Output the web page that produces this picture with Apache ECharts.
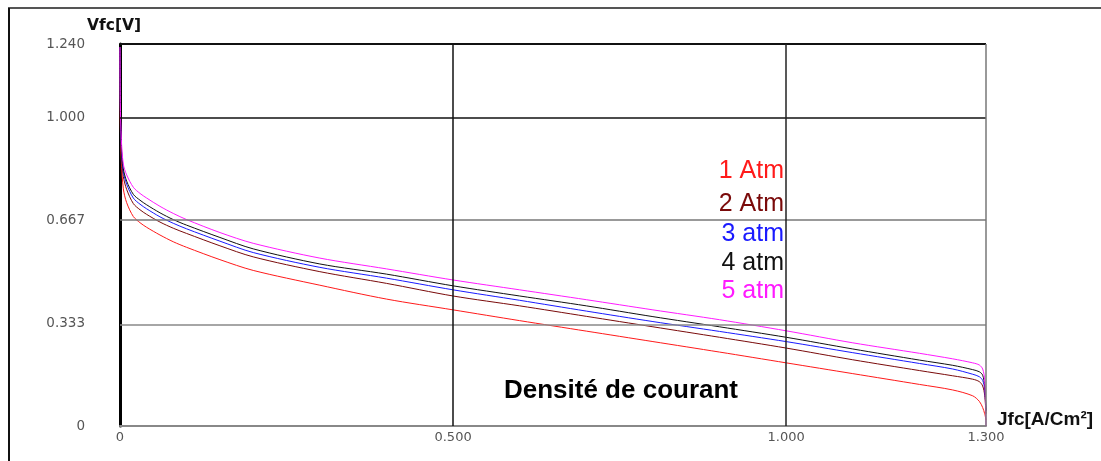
<!DOCTYPE html>
<html>
<head>
<meta charset="utf-8">
<style>
  html, body { margin: 0; padding: 0; background: #fff; }
  #chart { width: 1101px; height: 461px; }
</style>
<script src="https://cdn.jsdelivr.net/npm/echarts@6/dist/echarts.min.js"></script>
</head>
<body>
<div id="chart"></div>
<script>
// current density samples, A/cm2
var jValues = [0, 0.0005, 0.002, 0.005, 0.01, 0.02, 0.03, 0.04, 0.06, 0.08, 0.1, 0.15, 0.2, 0.3, 0.4,
  0.5, 0.6, 0.7, 0.8, 0.9, 1.0, 1.1, 1.2, 1.25, 1.28, 1.29, 1.295, 1.298, 1.3];

// cell voltage, V
var v1atm = [1.23, 0.98, 0.86, 0.77, 0.725, 0.68, 0.66, 0.645, 0.62, 0.598, 0.58, 0.54, 0.505, 0.457, 0.412,
  0.377, 0.342, 0.308, 0.274, 0.24, 0.205, 0.17, 0.135, 0.117, 0.098, 0.08, 0.06, 0.04, 0.02];
var v2atm = [1.23, 1.02, 0.885, 0.81, 0.768, 0.722, 0.702, 0.687, 0.662, 0.642, 0.625, 0.585, 0.549, 0.501, 0.463,
  0.422, 0.39, 0.356, 0.322, 0.288, 0.253, 0.215, 0.18, 0.163, 0.152, 0.144, 0.13, 0.10, 0.04];
var v3atm = [1.23, 1.03, 0.90, 0.825, 0.785, 0.74, 0.72, 0.705, 0.679, 0.658, 0.64, 0.60, 0.563, 0.515, 0.48,
  0.442, 0.408, 0.373, 0.339, 0.307, 0.274, 0.238, 0.203, 0.185, 0.168, 0.16, 0.148, 0.12, 0.05];
var v4atm = [1.23, 1.04, 0.91, 0.835, 0.795, 0.752, 0.733, 0.718, 0.692, 0.67, 0.652, 0.612, 0.575, 0.526, 0.493,
  0.455, 0.422, 0.39, 0.355, 0.322, 0.288, 0.25, 0.214, 0.197, 0.183, 0.176, 0.165, 0.13, 0.05];
var v5atm = [1.23, 1.05, 0.93, 0.85, 0.815, 0.775, 0.755, 0.74, 0.713, 0.69, 0.67, 0.628, 0.593, 0.545, 0.51,
  0.474, 0.442, 0.41, 0.377, 0.345, 0.309, 0.27, 0.236, 0.218, 0.205, 0.198, 0.185, 0.15, 0];

var seriesNames = ['1 Atm', '2 Atm', '3 atm', '4 atm', '5 atm'];
var seriesColors = ['#ff1a1a', '#7a0a0a', '#1a1aff', '#111111', '#ff1aff'];
var seriesValues = [v1atm, v2atm, v3atm, v4atm, v5atm];

var xTicks = [0, 0.5, 1.0, 1.3];
var xTickLabels = ['0', '0.500', '1.000', '1.300'];
var yTicks = [0, 0.333, 0.667, 1.0, 1.24];
var yTickLabels = ['0', '0.333', '0.667', '1.000', '1.240'];

(function () {
  var chart = echarts.init(document.getElementById('chart'), null, { renderer: 'canvas' });
  var left = 120, right = 115, top = 44, bottom = 35;

  function tickLabel(ticks, labels) {
    return function (v) {
      for (var i = 0; i < ticks.length; i++) {
        if (Math.abs(ticks[i] - v) < 1e-6) return labels[i];
      }
      return '';
    };
  }

  var series = seriesValues.map(function (vals, i) {
    return {
      name: seriesNames[i],
      type: 'line',
      z: 3,
      symbol: 'none',
      smooth: 0.3,
      lineStyle: { color: seriesColors[i], width: 1 },
      data: vals.map(function (v, k) { return [jValues[k], v]; })
    };
  });

  // grid and frame lines through the axes' scales
  series.unshift({
    type: 'line',
    z: 1,
    data: [],
    markLine: {
      silent: true,
      symbol: 'none',
      label: { show: false },
      data: [
        { yAxis: 1.24, lineStyle: { color: '#111', width: 2, type: 'solid' } },
        { yAxis: 1.0, lineStyle: { color: '#111', width: 1.5, type: 'solid' } },
        { yAxis: 0.667, lineStyle: { color: '#777', width: 1.5, type: 'solid' } },
        { yAxis: 0.333, lineStyle: { color: '#888', width: 1.5, type: 'solid' } },
        { xAxis: 0.5, lineStyle: { color: '#111', width: 1.5, type: 'solid' } },
        { xAxis: 1.0, lineStyle: { color: '#222', width: 1.5, type: 'solid' } },
        { xAxis: 1.3, lineStyle: { color: '#777', width: 1.5, type: 'solid' } }
      ]
    }
  });

  var legendTop = [171, 204, 234, 263, 291];
  var graphics = [
    { type: 'line', shape: { x1: 8, y1: 8, x2: 1101, y2: 8 }, style: { stroke: '#555', lineWidth: 2 } },
    { type: 'line', shape: { x1: 9, y1: 8, x2: 9, y2: 461 }, style: { stroke: '#111', lineWidth: 2 } },
    { type: 'text', left: 87, top: 18, style: { text: 'Vfc[V]', font: 'bold 15.5px "DejaVu Sans"', fill: '#111' } },
    { type: 'text', left: 997, top: 410, style: { text: 'Jfc[A/Cm²]', font: 'bold 19px "Liberation Sans"', fill: '#111' } },
    { type: 'text', x: 621, y: 391, style: { text: 'Densité de courant', font: 'bold 26px "Liberation Sans"', fill: '#000', align: 'center', verticalAlign: 'middle' } }
  ];
  seriesNames.forEach(function (name, i) {
    graphics.push({
      type: 'text', x: 784, y: legendTop[i],
      style: { text: name, font: '25px "Liberation Sans"', fill: seriesColors[i], align: 'right', verticalAlign: 'middle' }
    });
  });

  chart.setOption({
    animation: false,
    backgroundColor: '#fff',
    grid: { left: left, right: right, top: top, bottom: bottom },
    xAxis: {
      type: 'value',
      min: 0,
      max: 1.3,
      axisLine: { show: true, onZero: false, lineStyle: { color: '#888', width: 2 } },
      axisTick: { show: false },
      splitLine: { show: false },
      axisLabel: {
        customValues: xTicks,
        formatter: tickLabel(xTicks, xTickLabels),
        color: '#555',
        fontFamily: 'DejaVu Sans',
        fontSize: 13,
        margin: 5
      }
    },
    yAxis: {
      type: 'value',
      min: 0,
      max: 1.24,
      axisLine: { show: true, onZero: false, lineStyle: { color: '#000', width: 3 } },
      axisTick: { show: false },
      splitLine: { show: false },
      axisLabel: {
        customValues: yTicks,
        formatter: tickLabel(yTicks, yTickLabels),
        color: '#555',
        fontFamily: 'DejaVu Sans',
        fontSize: 13.5,
        margin: 35
      }
    },
    series: series,
    graphic: graphics
  });
})();
</script>
</body>
</html>
